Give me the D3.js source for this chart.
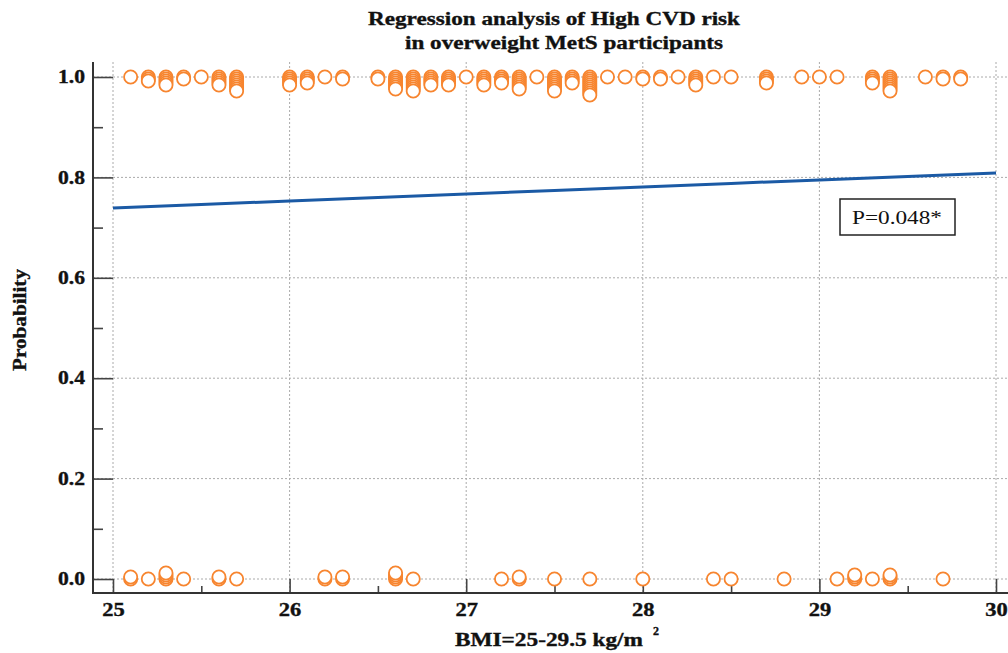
<!DOCTYPE html>
<html>
<head>
<meta charset="utf-8">
<script src="https://cdn.jsdelivr.net/npm/d3@7"></script>
<style>
  body { margin: 0; background: #fff; }
  text { font-family: "Liberation Serif", "Times New Roman", serif; fill: #111; }
  .bold { font-weight: bold; stroke: #111; stroke-width: 0.35px; }
</style>
</head>
<body>
<div id="chart"></div>
<script>
// BMI values with High CVD risk = 1, and how many participants share each value
var hiX = [25.1,25.2,25.3,25.4,25.5,25.6,25.7,26.0,26.1,26.2,26.3,26.5,26.6,26.7,26.8,26.9,
           27.0,27.1,27.2,27.3,27.4,27.5,27.6,27.7,27.8,27.9,28.0,28.1,28.2,28.3,28.4,28.5,
           28.7,28.9,29.0,29.1,29.3,29.4,29.6,29.7,29.8];
var hiN = [1,3,5,2,1,5,8,5,4,1,2,2,7,8,5,5,1,5,4,7,1,8,4,10,1,1,2,2,1,5,1,1,4,1,1,1,4,8,1,2,2];

// BMI values with High CVD risk = 0
var loX = [25.1,25.2,25.3,25.4,25.6,25.7,26.2,26.3,26.6,26.7,27.2,27.3,27.5,27.7,28.0,28.4,
           28.5,28.8,29.1,29.2,29.3,29.4,29.7];
var loN = [2,1,4,1,2,1,2,2,4,1,1,2,1,1,1,1,1,1,1,3,1,3,1];

// fitted probability curve
var fitX = [25, 26, 27, 28, 29, 30];
var fitP = [0.739, 0.753, 0.767, 0.781, 0.795, 0.809];

var xTicks = [25, 26, 27, 28, 29, 30];
var xMinor = [25.5, 26.5, 27.5, 28.5, 29.5];
var yTicks = [0, 0.2, 0.4, 0.6, 0.8, 1.0];
var yMinor = [0.1, 0.3, 0.5, 0.7, 0.9];

var titleLines = ["Regression analysis of High CVD risk", "in overweight MetS participants"];
var pLabel = "P=0.048*";

var W = 1008, H = 653;
var axisX = 93, axisY = 593, plotTop = 62, plotRight = 1008;

var svg = d3.select("#chart").append("svg")
    .attr("width", W)
    .attr("height", H);

var x = d3.scaleLinear().domain([25, 30]).range([113, 996]);
var y = d3.scaleLinear().domain([0, 1]).range([579, 77]);

function stretch(sel, f) {
  sel.each(function() {
    var w = this.getComputedTextLength();
    d3.select(this).attr("textLength", w * f).attr("lengthAdjust", "spacingAndGlyphs");
  });
}

// grid
svg.append("g").selectAll("line")
  .data(xTicks)
  .enter().append("line")
    .attr("x1", d => x(d)).attr("x2", d => x(d))
    .attr("y1", plotTop).attr("y2", axisY)
    .attr("stroke", "#aaa").attr("stroke-dasharray", "2,2");
svg.append("g").selectAll("line")
  .data(yTicks)
  .enter().append("line")
    .attr("x1", axisX).attr("x2", plotRight)
    .attr("y1", d => y(d)).attr("y2", d => y(d))
    .attr("stroke", "#aaa").attr("stroke-dasharray", "2,2");

// Y axis (ticks point into the plot)
var gy = svg.append("g")
  .attr("transform", "translate(" + axisX + ",0)")
  .call(d3.axisLeft(y).tickValues(yTicks).tickSize(-20).tickSizeOuter(0)
        .tickPadding(8).tickFormat(d3.format(".1f")));
gy.select(".domain").remove();
gy.selectAll(".tick line").attr("stroke", "#444").attr("stroke-width", 1.6);
gy.selectAll("text").attr("class", "bold").style("font-size", "18px")
  .attr("fill", "#111");
stretch(gy.selectAll("text"), 1.2);

var gym = svg.append("g")
  .attr("transform", "translate(" + axisX + ",0)")
  .call(d3.axisLeft(y).tickValues(yMinor).tickSize(-10).tickFormat(""));
gym.select(".domain").remove();
gym.selectAll(".tick line").attr("stroke", "#444").attr("stroke-width", 1.6);

// X axis
var gx = svg.append("g")
  .attr("transform", "translate(0," + axisY + ")")
  .call(d3.axisBottom(x).tickValues(xTicks).tickSize(-14).tickSizeOuter(0)
        .tickPadding(10).tickFormat(d3.format("d")));
gx.select(".domain").remove();
gx.selectAll(".tick line").attr("stroke", "#444").attr("stroke-width", 1.6);
gx.selectAll("text").attr("class", "bold").style("font-size", "18px")
  .attr("fill", "#111");
stretch(gx.selectAll("text"), 1.25);

var gxm = svg.append("g")
  .attr("transform", "translate(0," + axisY + ")")
  .call(d3.axisBottom(x).tickValues(xMinor).tickSize(-7).tickFormat(""));
gxm.select(".domain").remove();
gxm.selectAll(".tick line").attr("stroke", "#444").attr("stroke-width", 1.6);

// axis lines
svg.append("line")
  .attr("x1", axisX).attr("x2", axisX).attr("y1", plotTop).attr("y2", axisY + 1)
  .attr("stroke", "#333").attr("stroke-width", 2);
svg.append("line")
  .attr("x1", axisX - 1).attr("x2", plotRight).attr("y1", axisY).attr("y2", axisY)
  .attr("stroke", "#333").attr("stroke-width", 2);

// regression curve
var line = d3.line()
  .x(d => x(d[0]))
  .y(d => y(d[1]))
  .curve(d3.curveMonotoneX);
svg.append("path")
  .datum(fitX.map((v, i) => [v, fitP[i]]))
  .attr("d", line)
  .attr("fill", "none")
  .attr("stroke", "#1b5aa5")
  .attr("stroke-width", 3);

// observed points, stacked when values repeat
var pts = [];
hiX.forEach(function(v, i) {
  for (var k = 0; k < hiN[i]; k++) pts.push({x: v, p: 1, k: k, dir: 1});
});
loX.forEach(function(v, i) {
  for (var k = 0; k < loN[i]; k++) pts.push({x: v, p: 0, k: k, dir: -1});
});

svg.append("g").selectAll("circle")
  .data(pts)
  .enter().append("circle")
    .attr("cx", d => x(d.x))
    .attr("cy", d => y(d.p) + d.dir * d.k * 2)
    .attr("r", 6.6)
    .attr("fill", "#fff")
    .attr("stroke", "#f7852f")
    .attr("stroke-width", 1.8);

// P value box
svg.append("rect")
  .attr("x", 840).attr("y", 199).attr("width", 115).attr("height", 36)
  .attr("fill", "#fff").attr("stroke", "#222").attr("stroke-width", 1.5);
svg.append("text")
  .attr("x", 897).attr("y", 224)
  .attr("text-anchor", "middle")
  .style("font-size", "19px")
  .attr("textLength", 90).attr("lengthAdjust", "spacingAndGlyphs")
  .text(pLabel);

// title
var titleW = [372, 318], titleCx = [554, 564], titleY = [25, 49];
titleLines.forEach(function(t, i) {
  svg.append("text")
    .attr("class", "bold")
    .attr("x", titleCx[i]).attr("y", titleY[i])
    .attr("text-anchor", "middle")
    .style("font-size", "18px")
    .attr("textLength", titleW[i]).attr("lengthAdjust", "spacingAndGlyphs")
    .text(t);
});

// axis titles
svg.append("text")
  .attr("class", "bold")
  .attr("transform", "translate(26,320) rotate(-90)")
  .attr("text-anchor", "middle")
  .style("font-size", "18px")
  .attr("textLength", 102).attr("lengthAdjust", "spacingAndGlyphs")
  .text("Probability");

svg.append("text")
  .attr("class", "bold")
  .attr("x", 455).attr("y", 646)
  .style("font-size", "18px")
  .attr("textLength", 188).attr("lengthAdjust", "spacingAndGlyphs")
  .text("BMI=25-29.5 kg/m");
svg.append("text")
  .attr("class", "bold")
  .attr("x", 653).attr("y", 635)
  .style("font-size", "12px")
  .text("2");
</script>
</body>
</html>
